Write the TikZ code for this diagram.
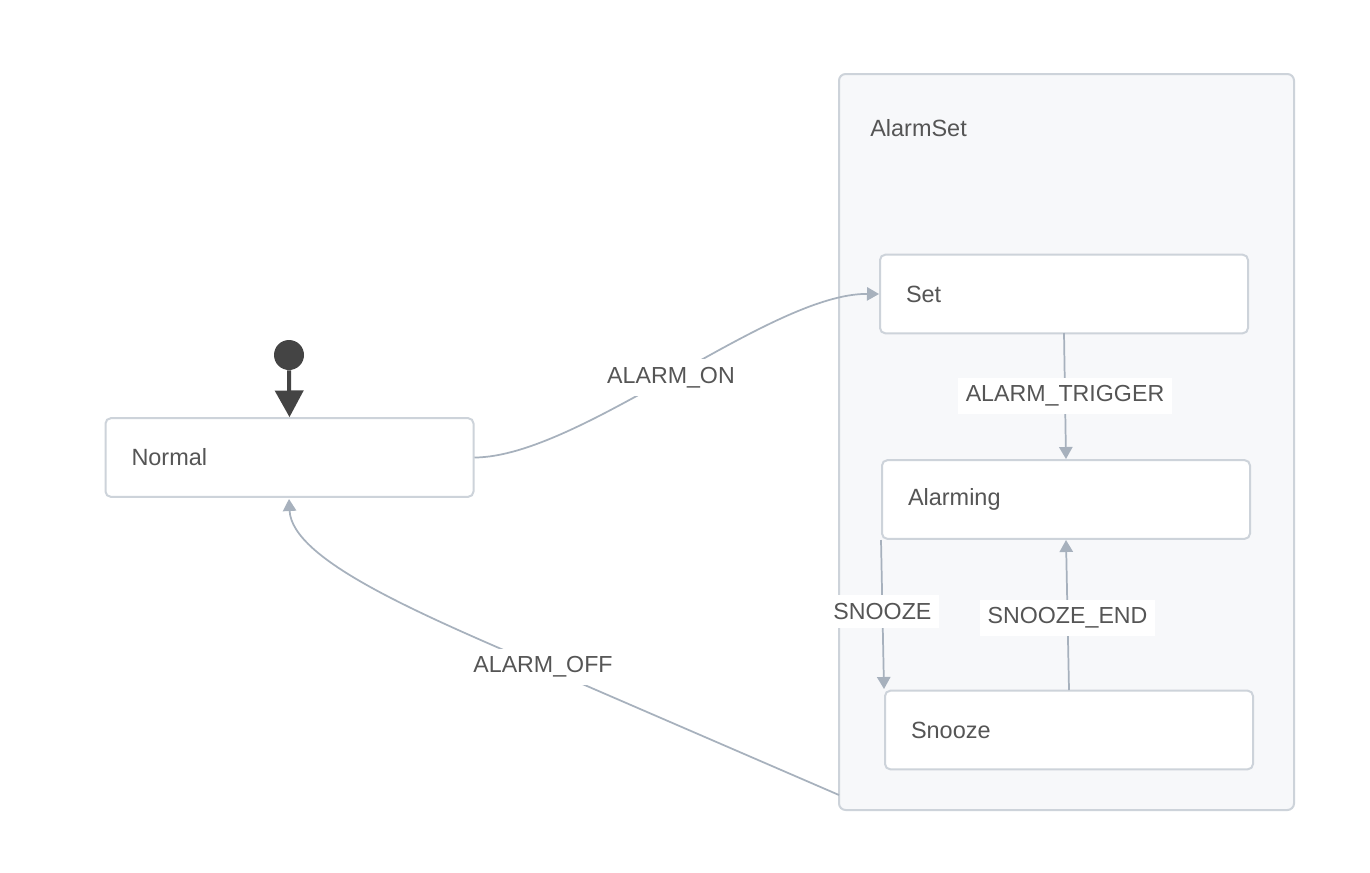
\documentclass[tikz,border=0pt]{standalone}
\usepackage{fontspec}
\setmainfont{Liberation Sans}
\usetikzlibrary{arrows.meta}
\definecolor{edgec}{HTML}{A7B1BD}
\definecolor{borderc}{HTML}{CDD3DA}
\definecolor{contfill}{HTML}{F7F8FA}
\definecolor{txtc}{HTML}{555555}
\definecolor{initc}{HTML}{444444}
\tikzset{
  x=0.75pt, y=-0.75pt,
  statebox/.style={draw=borderc, line width=1.5pt, fill=white, rounded corners=4pt,
    minimum height=59pt, text width=237pt, align=left, inner xsep=19.5pt,
    font=\fontsize{17.6}{20}\selectfont, text=txtc},
  container/.style={draw=borderc, line width=1.5pt, fill=contfill, rounded corners=5pt,
    minimum width=341.25pt, minimum height=552pt, inner sep=0pt},
  trans/.style={draw=edgec, line width=1.3pt, -{Triangle[width=10pt,length=9pt]}},
  elabel/.style={fill=white, inner xsep=5.5pt, inner ysep=6pt, text=txtc,
    font=\fontsize{17.4}{20}\selectfont},
}
\begin{document}
\begin{tikzpicture}
\useasboundingbox (0,0) rectangle (1370,872);
\fill[white] (0,0) rectangle (1370,872);

% container
\node[container] (alarmset) at (1066.5,442) {};
\node[anchor=west, text=txtc, font=\fontsize{17.6}{20}\selectfont, inner sep=0pt] (alarmsetlbl) at (870,128) {AlarmSet};

% states
\node[statebox] (normal) at (289.5,457.5) {Normal};
\node[statebox] (set) at (1064,294) {Set};
\node[statebox] (alarming) at (1066,499.5) {Alarming};
\node[statebox] (snooze) at (1069,730) {Snooze};

% initial
\node[circle, fill=initc, minimum size=22.5pt, inner sep=0pt] (init) at (289,355) {};
\draw[initc, line width=3pt, -{Triangle[width=21pt,length=20pt]}] (init.south) -- (normal.north);

% transitions
\draw[trans] (normal.east) .. controls (580,457) and (770,293) .. (set.west)
  node[elabel, pos=0.49] (lon) {ALARM\_ON};
\draw[trans] (1064,333) coordinate (t1s) -- (1066,459) coordinate (t1e)
  node[elabel, midway] (ltrig) {ALARM\_TRIGGER};
\draw[trans] (881,540) coordinate (s1s) -- (884,689) coordinate (s1e)
  node[elabel, pos=0.48] (lsnooze) {SNOOZE};
\draw[trans] (1069,690) coordinate (s2s) -- (1066,540) coordinate (s2e)
  node[elabel, pos=0.48] (lsend) {SNOOZE\_END};
\draw[trans] (839,795) coordinate (offs) -- (543,667) coordinate (offm)
  .. controls (420,614) and (292,560) .. (289,499) coordinate (offe);
\node[elabel] (loff) at (offm) {ALARM\_OFF};
\end{tikzpicture}
\end{document}
